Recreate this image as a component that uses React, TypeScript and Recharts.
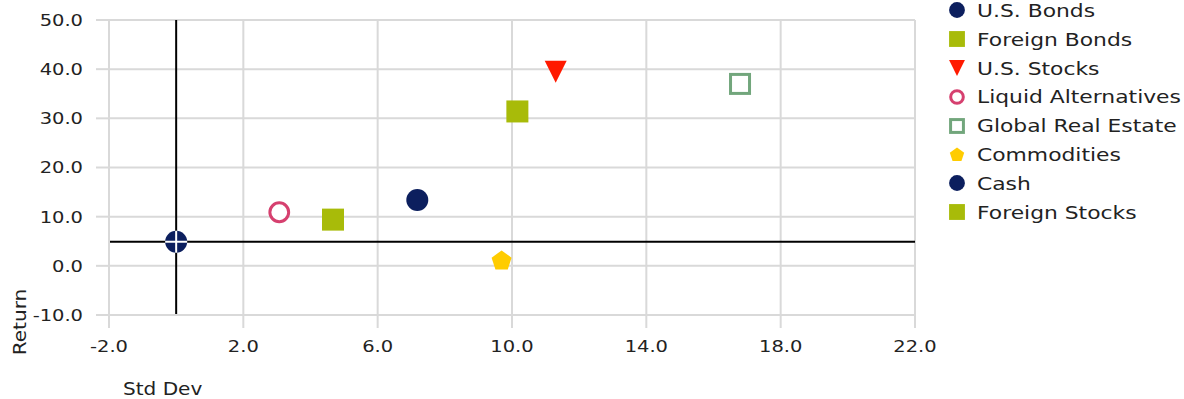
import {
  CartesianGrid,
  ReferenceLine,
  Scatter,
  ScatterChart,
  XAxis,
  YAxis,
} from 'recharts'

const FONT = '"DejaVu Sans", Verdana, sans-serif'
const TEXT = '#222222'
const GRID = '#d9d9d9'
const STRETCH = 1.18

// asset classes, in legend order
const assetNames = [
  'U.S. Bonds',
  'Foreign Bonds',
  'U.S. Stocks',
  'Liquid Alternatives',
  'Global Real Estate',
  'Commodities',
  'Cash',
  'Foreign Stocks',
]
const stdDevs = [7.18, 4.67, 11.3, 3.07, 16.79, 9.69, 0.0, 10.16]
const returns = [13.4, 9.4, 39.5, 10.9, 37.0, 1.0, 4.9, 31.4]

type MarkerKind = 'circle' | 'square' | 'triangleDown' | 'openCircle' | 'openSquare' | 'pentagon' | 'crossCircle'
const markerKinds: MarkerKind[] = [
  'circle',
  'square',
  'triangleDown',
  'openCircle',
  'openSquare',
  'pentagon',
  'crossCircle',
  'square',
]
const markerColors = ['#0c1f5e', '#a8bb09', '#ff1a00', '#d6406f', '#72a67c', '#ffcc00', '#0c1f5e', '#a8bb09']

const xTicks = [-2, 2, 6, 10, 14, 18, 22]
const yTicks = [-10, 0, 10, 20, 30, 40, 50]
// cross-hair through the cash point
const crossX = 0
const crossY = 4.9

function Marker({ kind, color, cx, cy, s = 1 }: { kind: MarkerKind; color: string; cx: number; cy: number; s?: number }) {
  const r = 11 * s
  switch (kind) {
    case 'circle':
      return <circle cx={cx} cy={cy} r={r} fill={color} />
    case 'crossCircle':
      return (
        <g>
          <circle cx={cx} cy={cy} r={r} fill={color} />
          <line x1={cx - r} x2={cx + r} y1={cy} y2={cy} stroke="#fff" strokeWidth={2} />
          <line x1={cx} x2={cx} y1={cy - r} y2={cy + r} stroke="#fff" strokeWidth={2} />
        </g>
      )
    case 'square':
      return <rect x={cx - r} y={cy - r} width={2 * r} height={2 * r} fill={color} />
    case 'openSquare': {
      const h = r - 1.5
      return <rect x={cx - h} y={cy - h} width={2 * h} height={2 * h} fill="#fff" stroke={color} strokeWidth={3} />
    }
    case 'openCircle':
      return <circle cx={cx} cy={cy} r={r - 1.6} fill="#fff" stroke={color} strokeWidth={3} />
    case 'triangleDown':
      return <polygon points={`${cx - r},${cy - r} ${cx + r},${cy - r} ${cx},${cy + r}`} fill={color} />
    case 'pentagon': {
      const R = 10.5 * s
      const pts = [0, 1, 2, 3, 4]
        .map((i) => {
          const a = -Math.PI / 2 + (i * 2 * Math.PI) / 5
          return `${cx + R * Math.cos(a)},${cy + R * Math.sin(a)}`
        })
        .join(' ')
      return <polygon points={pts} fill={color} />
    }
  }
  return null
}

function YTick({ x, y, payload }: { x: number; y: number; payload: { value: number } }) {
  return (
    <g transform={`translate(${x},${y})`}>
      <text textAnchor="end" dy="0.36em" transform={`scale(${STRETCH},1)`} fill={TEXT} fontSize={16.5} fontFamily={FONT}>
        {payload.value.toFixed(1)}
      </text>
    </g>
  )
}

function XTick({ x, y, payload }: { x: number; y: number; payload: { value: number } }) {
  return (
    <g transform={`translate(${x},${y})`}>
      <text textAnchor="middle" dy="0.71em" transform={`scale(${STRETCH},1)`} fill={TEXT} fontSize={16.5} fontFamily={FONT}>
        {payload.value.toFixed(1)}
      </text>
    </g>
  )
}

function LegendBox() {
  return (
    <div style={{ position: 'absolute', left: 946, top: -4, width: 238, fontFamily: FONT, fontSize: 18.5, color: TEXT }}>
      {assetNames.map((name, i) => (
        <div key={name} style={{ display: 'flex', alignItems: 'center', height: 28.85 }}>
          <svg width={22} height={22} style={{ marginRight: 9, flexShrink: 0 }}>
            <Marker kind={markerKinds[i] === 'crossCircle' ? 'circle' : markerKinds[i]} color={markerColors[i]} cx={11} cy={11} s={0.72} />
          </svg>
          <span style={{ display: 'inline-block', whiteSpace: 'nowrap', transform: `scaleX(${STRETCH})`, transformOrigin: 'left center' }}>
            {name}
          </span>
        </div>
      ))}
    </div>
  )
}

export default function App() {
  const series = assetNames.map((name, i) => ({
    name,
    kind: markerKinds[i],
    color: markerColors[i],
    data: [{ x: stdDevs[i], y: returns[i] }],
  }))

  return (
    <div style={{ position: 'absolute', left: 0, top: 0, width: 1184, height: 399, background: '#fff', overflow: 'hidden' }}>
      <ScatterChart width={1184} height={399} margin={{ top: 20, right: 269, left: 9, bottom: 24 }}>
        <CartesianGrid stroke={GRID} strokeWidth={2} horizontalValues={yTicks} verticalValues={xTicks} />
        <XAxis
          type="number"
          dataKey="x"
          domain={[-2, 22]}
          ticks={xTicks}
          interval={0}
          height={60}
          axisLine={{ stroke: GRID, strokeWidth: 2 }}
          tickLine={{ stroke: GRID, strokeWidth: 2 }}
          tickSize={13}
          tickMargin={12}
          tick={XTick}
          label={(p: any) => {
            const vb = p.viewBox || { x: 109, y: 315 }
            return (
              <text x={vb.x + 14} y={vb.y + 80} transform={`translate(${(vb.x + 14) * (1 - STRETCH)},0) scale(${STRETCH},1)`} fill={TEXT} fontSize={17} fontFamily={FONT}>
                Std Dev
              </text>
            )
          }}
        />
        <YAxis
          type="number"
          dataKey="y"
          domain={[-10, 50]}
          ticks={yTicks}
          interval={0}
          width={100}
          axisLine={{ stroke: GRID, strokeWidth: 2 }}
          tickLine={{ stroke: GRID, strokeWidth: 2 }}
          tickSize={13}
          tickMargin={13}
          tick={YTick}
          label={() => (
            <g transform="translate(20,322) rotate(-90)">
              <text textAnchor="middle" dy="0.36em" transform={`scale(${STRETCH},1)`} fill={TEXT} fontSize={17} fontFamily={FONT}>
                Return
              </text>
            </g>
          )}
        />
        <ReferenceLine x={crossX} stroke="#000" strokeWidth={2} />
        <ReferenceLine y={crossY} stroke="#000" strokeWidth={2} />
        {series.map((s) => (
          <Scatter
            key={s.name}
            name={s.name}
            data={s.data}
            fill={s.color}
            isAnimationActive={false}
            shape={(p: any) => <Marker kind={s.kind} color={s.color} cx={p.cx} cy={p.cy} />}
          />
        ))}
      </ScatterChart>
      <LegendBox />
    </div>
  )
}
